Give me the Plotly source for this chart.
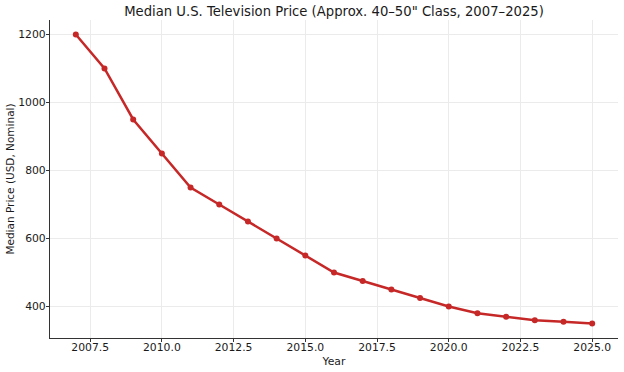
import plotly.graph_objects as go

years = [2007, 2008, 2009, 2010, 2011, 2012, 2013, 2014, 2015, 2016,
         2017, 2018, 2019, 2020, 2021, 2022, 2023, 2024, 2025]
prices = [1200, 1100, 950, 850, 750, 700, 650, 600, 550, 500,
          475, 450, 425, 400, 380, 370, 360, 355, 350]
x_ticks = [2007.5, 2010.0, 2012.5, 2015.0, 2017.5, 2020.0, 2022.5, 2025.0]
y_ticks = [400, 600, 800, 1000, 1200]

color = "#c62828"
font = "DejaVu Sans"

fig = go.Figure(go.Scatter(
    x=years, y=prices, mode="lines+markers",
    line=dict(color=color, width=2.5),
    marker=dict(color=color, size=6),
))

fig.update_layout(
    width=624, height=372,
    margin=dict(l=50, r=6, t=20, b=34, autoexpand=False),
    paper_bgcolor="white", plot_bgcolor="white",
    font=dict(family=font, size=10.5, color="#1a1a1a"),
    title=dict(text="Median U.S. Television Price (Approx. 40–50\" Class, 2007–2025)",
               x=0.5, xanchor="center", xref="paper",
               y=1 - 11 / 372, yanchor="middle", yref="container",
               automargin=False,
               font=dict(size=13.2, color="#1a1a1a")),
    showlegend=False,
)
fig.update_xaxes(
    range=[2006.1, 2025.9], tickvals=x_ticks, tickformat=".1f",
    showgrid=True, gridcolor="#ebebeb", gridwidth=1,
    showline=True, linecolor="#333", linewidth=1.2,
    ticks="outside", ticklen=3, tickcolor="#333",
    ticklabelstandoff=-4,
    zeroline=False, automargin=False,
    title=dict(text="Year", standoff=4, font=dict(size=10.8)),
    tickfont=dict(size=10.8),
)
fig.update_yaxes(
    range=[307.5, 1242.5], tickvals=y_ticks,
    showgrid=True, gridcolor="#ebebeb", gridwidth=1,
    showline=True, linecolor="#333", linewidth=1.2,
    ticks="outside", ticklen=3, tickcolor="#333",
    ticklabelstandoff=-2,
    zeroline=False, automargin=False,
    title=dict(text="Median Price (USD, Nominal)", standoff=1, font=dict(size=10.5)),
    tickfont=dict(size=10.8),
)

fig.write_html("out.html", config={"displayModeBar": False},
               post_script="document.body.style.margin='0';")
